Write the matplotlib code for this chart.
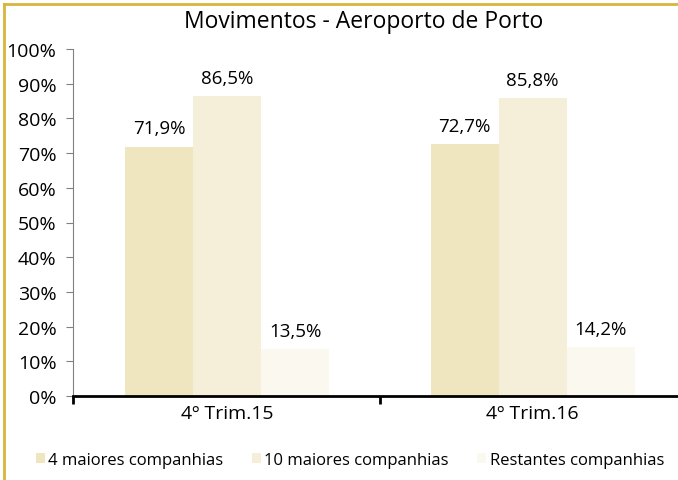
import numpy as np
import matplotlib
matplotlib.use('Agg')
import matplotlib.pyplot as plt
from matplotlib.lines import Line2D
from matplotlib.patches import Patch

plt.rcParams['font.family'] = ['Open Sans', 'DejaVu Sans']

# data
categories = ['4º Trim.15', '4º Trim.16']
series_names = ['4 maiores companhias', '10 maiores companhias', 'Restantes companhias']
top4 = [71.9, 72.7]
top10 = [86.5, 85.8]
rest = [13.5, 14.2]
colors = ['#EFE6BF', '#F5EFD9', '#FBF8EF']

W, H = 678, 481
fig = plt.figure(figsize=(W / 100, H / 100), dpi=100)
ax = fig.add_axes([73 / W, 1 - 397 / H, (678 - 73) / W, (397 - 50) / H])

x = np.arange(len(categories))
bw = 0.2226
for i, (vals, col) in enumerate(zip([top4, top10, rest], colors)):
    pos = x + (i - 1) * bw
    ax.bar(pos, vals, width=bw, color=col, label=series_names[i])
    for p, v in zip(pos, vals):
        ax.text(p, v + 2.6, f'{v:.1f}%'.replace('.', ','), ha='center', va='bottom', fontsize=13.5)

ax.set_ylim(0, 100)
ax.set_xlim(-0.504, 1.476)
ax.set_yticks(np.arange(0, 101, 10))
ax.set_yticklabels([f'{v}%' for v in range(0, 101, 10)], fontsize=14)
ax.set_xticks(x)
ax.set_xticklabels(categories, fontsize=14)
ax.set_xticks([-0.504, 0.5], minor=True)
ax.tick_params(axis='x', which='major', length=0, pad=6)
ax.tick_params(axis='x', which='minor', length=6, width=2, color='black')
ax.tick_params(axis='y', length=5, color='#808080', pad=7)

for s in ['top', 'right']:
    ax.spines[s].set_visible(False)
ax.spines['left'].set_color('#808080')
ax.spines['bottom'].set_color('black')
ax.spines['bottom'].set_linewidth(2)

fig.text(364 / W, 1 - 22 / H, 'Movimentos - Aeroporto de Porto', ha='center', va='center', fontsize=16.5)

handles = [Patch(facecolor=c, edgecolor='none') for c in colors]
fig.legend(handles, series_names, loc='center', bbox_to_anchor=(350 / W, 1 - 461 / H), ncol=3,
           frameon=False, fontsize=12, handlelength=0.55, handleheight=0.55, handletextpad=0.2,
           columnspacing=1.7)

# gold frame (top and left edges)
gold = '#D9B53A'
fig.add_artist(Line2D([4 / W, 4 / W], [0, 1 - 5 / H], color=gold, lw=2, transform=fig.transFigure))
fig.add_artist(Line2D([4 / W, 1], [1 - 5 / H, 1 - 5 / H], color=gold, lw=2, transform=fig.transFigure))

fig.savefig('out.png', dpi=100)
